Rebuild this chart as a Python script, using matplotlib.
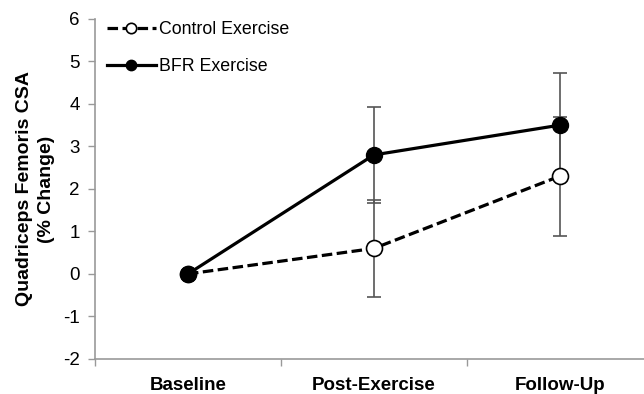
import numpy as np
import matplotlib.pyplot as plt

plt.rcParams['font.family'] = ['Liberation Sans', 'DejaVu Sans']
plt.rcParams['axes.unicode_minus'] = False

categories = ["Baseline", "Post-Exercise", "Follow-Up"]
control = [0.0, 0.6, 2.3]
control_err = [0.0, 1.15, 1.4]
bfr = [0.0, 2.8, 3.5]
bfr_err = [0.0, 1.12, 1.22]

x = np.arange(len(categories))

fig = plt.figure(figsize=(6.44, 3.94), dpi=100)
ax = fig.add_axes([0.1475, 0.089, 0.866, 0.863])

# error bars
for vals, errs in [(control, control_err), (bfr, bfr_err)]:
    ax.errorbar(x[1:], vals[1:], yerr=errs[1:], fmt='none', ecolor='#555555',
                elinewidth=1.2, capsize=5, capthick=1.2, zorder=2)

ax.plot(x, control, linestyle=(0, (3.3, 1.4)), color='black', linewidth=2.3,
        marker='o', markersize=11.5, markerfacecolor='white',
        markeredgecolor='black', markeredgewidth=1.2, label='Control Exercise', zorder=3)
ax.plot(x, bfr, linestyle='-', color='black', linewidth=2.3,
        marker='o', markersize=11.5, markerfacecolor='black',
        markeredgecolor='black', label='BFR Exercise', zorder=4)

ax.set_xlim(-0.5, 2.5)
ax.set_ylim(-2, 6)
ax.set_yticks(range(-2, 7))
ax.set_xticks(x)
ax.set_xticklabels(categories, fontsize=13.5, fontweight='bold')
ax.set_xticks([-0.5, 0.5, 1.5, 2.5], minor=True)
ax.tick_params(axis='x', which='major', length=0, pad=13)
ax.tick_params(axis='x', which='minor', length=5, color='#999999', width=1)
ax.tick_params(axis='y', length=5, color='#999999', width=1, labelsize=13.5, pad=6)

for side in ['top', 'right']:
    ax.spines[side].set_visible(False)
for side in ['left', 'bottom']:
    ax.spines[side].set_color('#999999')
    ax.spines[side].set_linewidth(1.2)

ax.set_ylabel("Quadriceps Femoris CSA\n(% Change)", fontsize=14,
              fontweight='bold', linespacing=1.35, labelpad=6)

leg = ax.legend(loc='upper left', bbox_to_anchor=(0.0215, 0.993), frameon=False,
                fontsize=12.8, handlelength=2.75, handletextpad=0.15,
                labelspacing=1.1, borderaxespad=0, borderpad=0, markerscale=0.65)

fig.savefig('out.png', dpi=100)
